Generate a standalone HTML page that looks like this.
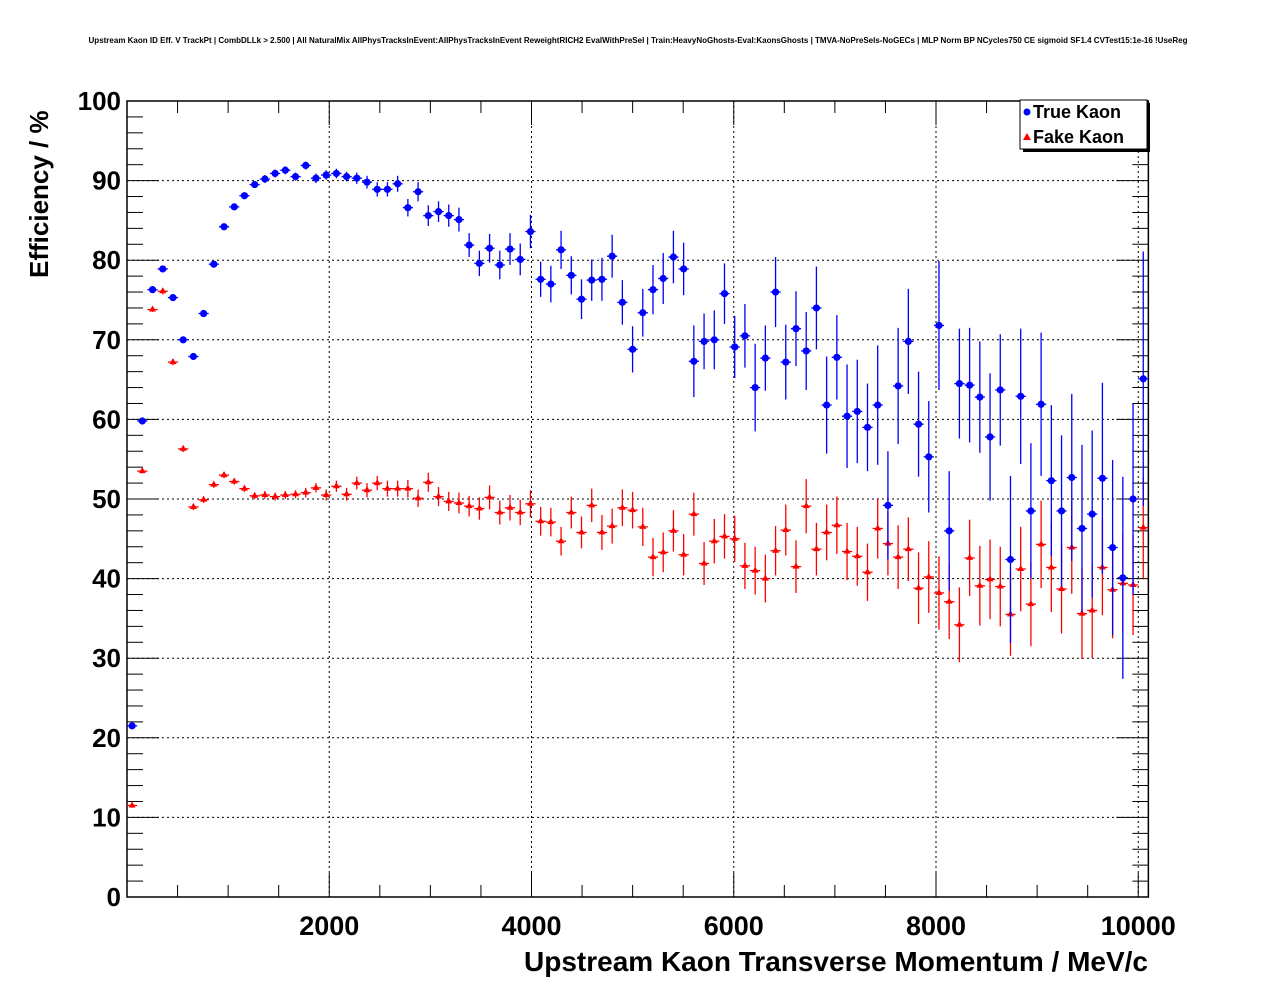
<!DOCTYPE html>
<html><head><meta charset="utf-8"><style>
html,body{margin:0;padding:0;background:#fff;}
svg{display:block;font-family:"Liberation Sans",sans-serif;}
</style></head><body>
<svg id="chart" width="1276" height="996" viewBox="0 0 1276 996">
<text x="638" y="43" font-size="8" font-weight="bold" text-anchor="middle">Upstream Kaon ID Eff. V TrackPt | CombDLLk &gt; 2.500 | All NaturalMix AllPhysTracksInEvent:AllPhysTracksInEvent ReweightRICH2 EvalWithPreSel | Train:HeavyNoGhosts-Eval:KaonsGhosts | TMVA-NoPreSels-NoGECs | MLP Norm BP NCycles750 CE sigmoid SF1.4 CVTest15:1e-16 !UseReg</text>
<g id="grid"></g>
<g id="axes"></g>
<g id="series"></g>
<text x="1148" y="971" font-size="28" font-weight="bold" text-anchor="end">Upstream Kaon Transverse Momentum / MeV/c</text>
<text transform="translate(48,278) rotate(-90)" font-size="26" font-weight="bold">Efficiency / %</text>
<g>
<rect x="1023" y="103" width="127" height="49" fill="#000"/>
<rect x="1020" y="100" width="127" height="49" fill="#fff" stroke="#000" stroke-width="1"/>
<g>
<circle cx="1027" cy="112" r="3.5" fill="#0000ff"/>
<text x="1033" y="118" font-size="18" font-weight="bold">True Kaon</text></g>
<g>
<polygon points="1027,133 1031,140 1023,140" fill="#ff0000"/>
<text x="1033" y="143" font-size="18" font-weight="bold">Fake Kaon</text></g>
</g>
</svg>
<script>
const xCenters = [50.5,151.5,252.5,353.5,454.5,555.5,656.5,757.5,858.5,959.5,1060.5,1161.5,1262.5,1363.5,1464.5,1565.5,1666.5,1767.5,1868.5,1969.5,2070.5,2171.5,2272.5,2373.5,2474.5,2575.5,2676.5,2777.5,2878.5,2979.5,3080.5,3181.5,3282.5,3383.5,3484.5,3585.5,3686.5,3787.5,3888.5,3989.5,4090.5,4191.5,4292.5,4393.5,4494.5,4595.5,4696.5,4797.5,4898.5,4999.5,5100.5,5201.5,5302.5,5403.5,5504.5,5605.5,5706.5,5807.5,5908.5,6009.5,6110.5,6211.5,6312.5,6413.5,6514.5,6615.5,6716.5,6817.5,6918.5,7019.5,7120.5,7221.5,7322.5,7423.5,7524.5,7625.5,7726.5,7827.5,7928.5,8029.5,8130.5,8231.5,8332.5,8433.5,8534.5,8635.5,8736.5,8837.5,8938.5,9039.5,9140.5,9241.5,9342.5,9443.5,9544.5,9645.5,9746.5,9847.5,9948.5,10049.5];
const trueKaon = [21.5,59.8,76.3,78.9,75.3,70,67.9,73.3,79.5,84.2,86.7,88.1,89.5,90.2,90.9,91.3,90.5,91.9,90.3,90.7,90.9,90.5,90.3,89.8,88.9,88.9,89.6,86.6,88.6,85.6,86.1,85.6,85.1,81.9,79.6,81.5,79.4,81.4,80.1,83.6,77.6,77,81.3,78.1,75.1,77.5,77.6,80.5,74.7,68.8,73.4,76.3,77.7,80.4,78.9,67.3,69.8,70,75.8,69.1,70.5,64,67.7,76,67.2,71.4,68.6,74,61.8,67.8,60.4,61,59,61.8,49.2,64.2,69.8,59.4,55.3,71.8,46,64.5,64.3,62.8,57.8,63.7,42.4,62.9,48.5,61.9,52.3,48.5,52.7,46.3,48.1,52.6,43.9,40.1,50,65.1];
const trueErr = [0.4,0.4,0.4,0.4,0.4,0.4,0.4,0.4,0.4,0.4,0.4,0.4,0.4,0.5,0.5,0.5,0.5,0.5,0.6,0.6,0.6,0.6,0.7,0.8,0.9,0.9,1,1.1,1.2,1.3,1.3,1.4,1.5,1.5,1.6,1.8,1.8,2,2,2.1,2.2,2.3,2.4,2.4,2.5,2.6,2.7,2.7,2.8,2.9,3,3.1,3.2,3.3,3.3,4.5,3.5,3.7,3.8,3.9,4,5.5,4.1,4.4,4.7,4.7,4.9,5.2,6.1,5.3,6.5,6.5,5.5,7.5,6.8,7.3,6.6,6.6,7,8.1,7.5,6.9,7.2,7,8,7,10.5,8.5,8.5,9,9.5,9.5,10.5,10.5,10.5,12,11,12.7,12,16];
const fakeKaon = [11.5,53.5,73.8,76.1,67.2,56.3,49,49.9,51.8,53,52.2,51.3,50.4,50.5,50.3,50.5,50.6,50.8,51.4,50.5,51.6,50.6,52,51.1,52,51.3,51.3,51.3,50.1,52.1,50.3,49.7,49.5,49.1,48.8,50.2,48.3,48.9,48.3,49.4,47.2,47.1,44.7,48.3,45.8,49.2,45.8,46.6,48.9,48.6,46.5,42.7,43.3,46,43,48.1,41.9,44.7,45.3,45,41.6,41,40,43.5,46.1,41.5,49.1,43.7,45.8,46.7,43.4,42.8,40.8,46.3,44.4,42.7,43.7,38.8,40.2,38.2,37.1,34.2,42.6,39.1,39.9,39,35.5,41.2,36.8,44.3,41.4,38.7,43.9,35.6,36,41.4,38.6,39.4,39.2,46.4];
const fakeErr = [0.3,0.3,0.3,0.4,0.4,0.4,0.4,0.4,0.4,0.4,0.4,0.4,0.4,0.5,0.5,0.5,0.5,0.6,0.6,0.7,0.7,0.8,0.8,0.9,0.9,1,1,1.1,1.1,1.2,1.2,1.2,1.3,1.3,1.4,1.5,1.5,1.6,1.6,1.7,1.8,1.8,1.8,2,2,2.1,2.2,2.2,2.3,2.3,2.4,2.4,2.5,2.6,2.6,2.7,2.7,2.8,2.8,2.9,2.9,3,3,3.1,3.2,3.3,3.4,3.3,3.5,3.6,3.6,3.7,3.6,3.8,4,4,4,4.5,4.5,4.6,4.7,4.7,4.8,5,5,5,5.2,5.3,5.3,5.5,5.6,5.6,5.8,5.7,6,6,6.1,6.2,6.3,6.4];
const xTicks = [2000,4000,6000,8000,10000];
const yTicks = [0,10,20,30,40,50,60,70,80,90,100];
const binWidth = 101;

const XMAX = 10100;
const xs = v => 127 + v*0.101125;
const X0 = xs(0), X1 = xs(XMAX), Y0=897, Y1=101;
const ys = v => Y0 - (v/100)*(Y0-Y1);
const NS='http://www.w3.org/2000/svg';
function mk(tag, attrs, parent){const e=document.createElementNS(NS,tag);for(const k in attrs)e.setAttribute(k,attrs[k]);parent.appendChild(e);return e;}
const grid=document.getElementById('grid'), axes=document.getElementById('axes'), ser=document.getElementById('series');

yTicks.forEach(t=>{ if(t>0&&t<100){const l=mk('line',{x1:X0,x2:X1,y1:ys(t),y2:ys(t),stroke:'#000','stroke-width':1,'stroke-dasharray':'2,3'},grid);

}});
xTicks.forEach(t=>{const l=mk('line',{x1:xs(t),x2:xs(t),y1:Y1,y2:Y0,stroke:'#000','stroke-width':1,'stroke-dasharray':'2,3'},grid);

});

mk('rect',{x:X0,y:Y1,width:X1-X0,height:Y0-Y1,fill:'none',stroke:'#000','stroke-width':1.5},axes);
for(let v=0;v<=100;v+=2){const major=v%10===0;const L=major?32:16;
 mk('line',{x1:X0,x2:X0+L,y1:ys(v),y2:ys(v),stroke:'#000','stroke-width':1},axes);
 mk('line',{x1:X1-L,x2:X1,y1:ys(v),y2:ys(v),stroke:'#000','stroke-width':1},axes);}
for(let v=0;v<=10000;v+=500){const major=v%2000===0;const L=major?24:12;
 mk('line',{x1:xs(v),x2:xs(v),y1:Y0,y2:Y0-L,stroke:'#000','stroke-width':1},axes);
 mk('line',{x1:xs(v),x2:xs(v),y1:Y1,y2:Y1+L,stroke:'#000','stroke-width':1},axes);}
yTicks.forEach(t=>{const tx=mk('text',{x:121,y:ys(t)+9,'font-size':26,'font-weight':'bold','text-anchor':'end'},axes);tx.textContent=t;
 
 });
xTicks.forEach(t=>{const tx=mk('text',{x:xs(t),y:935,'font-size':27,'font-weight':'bold','text-anchor':'middle'},axes);tx.textContent=t;
 
 });

xCenters.forEach((x,i)=>{
 const cx=xs(x), hw=xs(binWidth/2)-xs(0);
 const g2=mk('g',{},ser);
 
 
 const fy=ys(fakeKaon[i]);
 mk('line',{x1:cx-hw,x2:cx+hw,y1:fy,y2:fy,stroke:'#ff0000','stroke-width':1.3},g2);
 mk('line',{x1:cx,x2:cx,y1:ys(fakeKaon[i]+fakeErr[i]),y2:ys(fakeKaon[i]-fakeErr[i]),stroke:'#ff0000','stroke-width':1.3},g2);
 mk('polygon',{points:`${cx},${fy-4} ${cx+3.5},${fy+2} ${cx-3.5},${fy+2}`,fill:'#ff0000'},g2);
 const g=mk('g',{},ser);
 
 
 const ty=ys(trueKaon[i]);
 mk('line',{x1:cx-hw,x2:cx+hw,y1:ty,y2:ty,stroke:'#0000ff','stroke-width':1.3},g);
 mk('line',{x1:cx,x2:cx,y1:ys(trueKaon[i]+trueErr[i]),y2:ys(trueKaon[i]-trueErr[i]),stroke:'#0000ff','stroke-width':1.3},g);
 mk('circle',{cx:cx,cy:ty,r:3.6,fill:'#0000ff'},g);
});
</script>
</body></html>
